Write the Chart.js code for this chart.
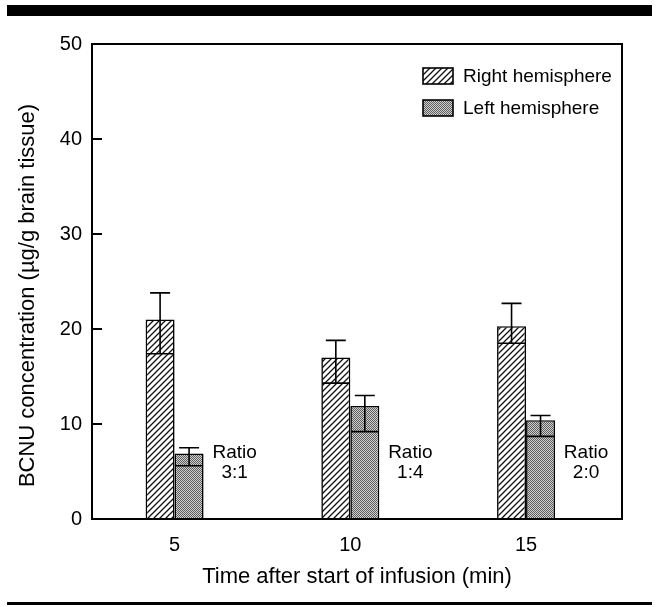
<!DOCTYPE html>
<html>
<head>
<meta charset="utf-8">
<script src="https://cdn.jsdelivr.net/npm/chart.js@4.4.1/dist/chart.umd.min.js"></script>
<style>
  html, body { margin: 0; padding: 0; background: #ffffff; }
  #wrap { position: relative; width: 658px; height: 607px; }
</style>
</head>
<body>
<div id="wrap"><canvas id="c" width="658" height="607"></canvas></div>
<script>
// ---- data ----
const categories = [5, 10, 15];
const seriesNames = ["Right hemisphere", "Left hemisphere"];
const rightValues = [21.0, 17.0, 20.3];
const leftValues = [6.9, 11.9, 10.4];
const rightErrHigh = [23.8, 18.8, 22.7];
const rightErrLow = [17.4, 14.3, 18.5];
const leftErrHigh = [7.5, 13.0, 10.9];
const leftErrLow = [5.6, 9.2, 8.7];
const ratioLabels = ["3:1", "1:4", "2:0"];
const yTicks = [0, 10, 20, 30, 40, 50];
const xTicks = [5, 10, 15];
const yTitle = 'BCNU concentration (µg/g brain tissue)';
const xTitle = 'Time after start of infusion (min)';

const FONT = "'Liberation Sans', Arial, Helvetica, sans-serif";

function hatchPattern() {
  const s = 6;
  const c = document.createElement('canvas');
  c.width = s; c.height = s;
  const g = c.getContext('2d');
  g.fillStyle = '#ffffff';
  g.fillRect(0, 0, s, s);
  g.strokeStyle = '#111111';
  g.lineWidth = 1.3;
  g.beginPath();
  g.moveTo(-1, s + 1); g.lineTo(s + 1, -1);
  g.moveTo(-1, 1); g.lineTo(1, -1);
  g.moveTo(s - 1, s + 1); g.lineTo(s + 1, s - 1);
  g.stroke();
  return g.createPattern(c, 'repeat');
}
function stipplePattern() {
  const c = document.createElement('canvas');
  c.width = 2; c.height = 2;
  const g = c.getContext('2d');
  g.fillStyle = '#cfcfcf';
  g.fillRect(0, 0, 2, 2);
  g.fillStyle = '#5e5e5e';
  g.fillRect(0, 0, 1, 1);
  g.fillRect(1, 1, 1, 1);
  return g.createPattern(c, 'repeat');
}
const fills = [hatchPattern(), stipplePattern()];

const errPlugin = {
  id: 'errbars',
  afterDatasetsDraw(chart) {
    const ctx = chart.ctx;
    const y = chart.scales.y;
    const sets = [[rightErrHigh, rightErrLow], [leftErrHigh, leftErrLow]];
    ctx.save();
    ctx.strokeStyle = '#000';
    ctx.lineWidth = 1.6;
    sets.forEach((pair, di) => {
      const meta = chart.getDatasetMeta(di);
      meta.data.forEach((bar, i) => {
        const yh = y.getPixelForValue(pair[0][i]);
        const yl = y.getPixelForValue(pair[1][i]);
        const x = bar.x;
        const half = bar.width / 2;
        ctx.beginPath();
        ctx.moveTo(x, yh); ctx.lineTo(x, yl);
        ctx.moveTo(x - 10, yh); ctx.lineTo(x + 10, yh);
        ctx.moveTo(x - half + 1, yl); ctx.lineTo(x + half - 1, yl);
        ctx.stroke();
      });
    });
    // ratio annotations next to left-hemisphere bars
    const meta = chart.getDatasetMeta(1);
    ctx.fillStyle = '#000';
    ctx.font = '19px ' + FONT;
    ctx.textAlign = 'center';
    ctx.textBaseline = 'middle';
    meta.data.forEach((bar, i) => {
      const cx = bar.x + bar.width / 2 + 31;
      const ty = y.getPixelForValue(7);
      ctx.fillText('Ratio', cx, ty);
      ctx.fillText(ratioLabels[i], cx, ty + 20);
    });
    ctx.restore();
  }
};

const framePlugin = {
  id: 'frame',
  afterDraw(chart) {
    const ctx = chart.ctx;
    const a = chart.chartArea;
    const y = chart.scales.y;
    ctx.save();
    ctx.strokeStyle = '#000';
    ctx.lineWidth = 2;
    ctx.strokeRect(a.left, a.top, a.right - a.left, a.bottom - a.top);
    // inward ticks
    ctx.beginPath();
    yTicks.forEach(v => {
      const py = y.getPixelForValue(v);
      ctx.moveTo(a.left, py); ctx.lineTo(a.left + 10, py);
    });
    ctx.stroke();
    // y-axis title (set slightly below the plot centre, as in the original)
    ctx.save();
    ctx.fillStyle = '#000';
    ctx.font = '22px ' + FONT;
    ctx.textAlign = 'center';
    ctx.textBaseline = 'middle';
    ctx.translate(28, (a.top + a.bottom) / 2 + 14);
    ctx.rotate(-Math.PI / 2);
    ctx.fillText(yTitle, 0, 0);
    ctx.restore();
    // legend inside plot, top right
    ctx.font = '19px ' + FONT;
    ctx.textAlign = 'left';
    ctx.textBaseline = 'middle';
    chart.data.datasets.forEach((ds, i) => {
      const bx = a.right - 199, by = a.top + 24 + i * 32;
      ctx.fillStyle = ds.backgroundColor;
      ctx.fillRect(bx, by, 30, 16);
      ctx.lineWidth = 1.6;
      ctx.strokeRect(bx, by, 30, 16);
      ctx.fillStyle = '#000';
      ctx.fillText(ds.label, bx + 40, by + 9);
    });
    // page rules above and below the figure
    ctx.fillStyle = '#000';
    ctx.fillRect(7, 5, 645, 11);
    ctx.fillRect(7, 602, 645, 3);
    ctx.restore();
  }
};

const toPoints = vals => vals.map((v, i) => ({ x: categories[i], y: v }));

new Chart(document.getElementById('c'), {
  type: 'bar',
  data: {
    datasets: [
      { label: seriesNames[0], data: toPoints(rightValues), backgroundColor: fills[0], borderColor: '#000', borderWidth: 1.6 },
      { label: seriesNames[1], data: toPoints(leftValues), backgroundColor: fills[1], borderColor: '#000', borderWidth: 1.6 }
    ]
  },
  options: {
    responsive: false,
    animation: false,
    devicePixelRatio: 1,
    layout: { padding: { left: 0, right: 36, top: 44, bottom: 0 } },
    plugins: { legend: { display: false }, tooltip: { enabled: false } },
    datasets: { bar: { categoryPercentage: 0.33, barPercentage: 1.0 } },
    scales: {
      x: {
        type: 'linear',
        min: 2.65, max: 17.73,
        offset: false,
        afterBuildTicks(s) { s.ticks = xTicks.map(v => ({ value: v })); },
        grid: { display: false, drawTicks: false },
        border: { display: true, color: '#000', width: 2 },
        ticks: { color: '#000', font: { family: FONT, size: 20 }, padding: 14 },
        title: { display: true, text: xTitle, color: '#000', font: { family: FONT, size: 22 }, padding: { top: 0, bottom: 17 } },
        afterFit(s) { s.height = 88; }
      },
      y: {
        min: 0, max: 50,
        afterBuildTicks(s) { s.ticks = yTicks.map(v => ({ value: v })); },
        grid: { display: false, drawTicks: false },
        border: { display: true, color: '#000', width: 2 },
        ticks: { color: '#000', font: { family: FONT, size: 20 }, padding: 10 },
        title: { display: false },
        afterFit(s) { s.width = 92; }
      }
    }
  },
  plugins: [errPlugin, framePlugin]
});
</script>
</body>
</html>
